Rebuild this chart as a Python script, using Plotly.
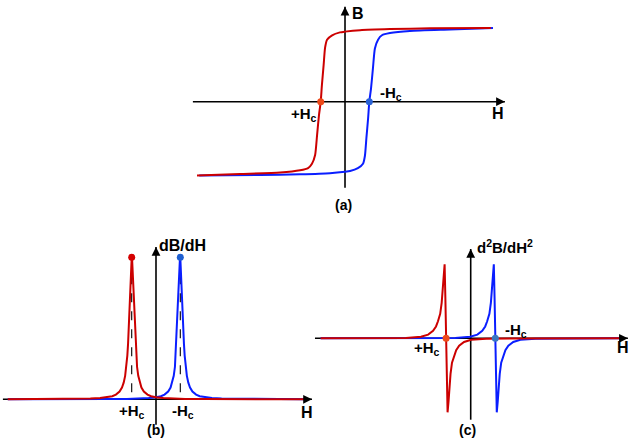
import plotly.graph_objects as go

# ---------------- data ----------------
# (a) hysteresis loop  (H in units of Hc, B in units of saturation)
a_red_H = [-6.09, -4.32, -2.67, -1.85, -1.52, -1.36, -1.23, -1.15, -1.07, -1.0, -0.95,
           -0.88, -0.82, -0.74, -0.53, -0.21, 0.0, 0.62, 1.85, 3.5, 6.0]
a_red_B = [-1.01, -0.99, -0.97, -0.94, -0.91, -0.85, -0.73, -0.46, -0.18, 0.0, 0.23,
           0.50, 0.74, 0.85, 0.91, 0.95, 0.96, 0.98, 0.995, 1.005, 1.01]
a_blue_H = [6.09, 4.32, 2.67, 1.85, 1.52, 1.36, 1.23, 1.15, 1.07, 1.0, 0.95,
            0.88, 0.82, 0.74, 0.53, 0.21, 0.0, -0.62, -1.85, -3.5, -6.0]
a_blue_B = [1.01, 0.99, 0.97, 0.94, 0.91, 0.85, 0.73, 0.46, 0.18, 0.0, -0.23,
            -0.50, -0.74, -0.85, -0.91, -0.95, -0.96, -0.98, -0.995, -1.005, -1.01]
hc_H = [-1.0, 1.0]
hc_B = [0.0, 0.0]

# (b) first derivative dB/dH
b_red_H = [-6.1, -5.0, -4.0, -3.2, -2.7, -2.3, -2.0, -1.8, -1.65, -1.5, -1.4, -1.33, -1.27,
           -1.22, -1.18, -1.15, -1.12, -1.10, -1.08, -1.06, -1.04, -1.02, -1.0, -0.98, -0.96,
           -0.94, -0.92, -0.90, -0.88, -0.85, -0.82, -0.78, -0.73, -0.67, -0.60, -0.5, -0.35,
           -0.2, 0.0, 0.3, 0.7, 1.2, 2.0, 3.0, 4.5, 6.1]
b_red_Y = [0.0006, 0.0009, 0.0016, 0.003, 0.005, 0.0085, 0.0142, 0.022, 0.033, 0.0545, 0.0826,
           0.117, 0.165, 0.229, 0.308, 0.390, 0.5, 0.590, 0.692, 0.8, 0.9, 0.973, 1.0, 0.973,
           0.9, 0.8, 0.692, 0.590, 0.5, 0.390, 0.308, 0.229, 0.165, 0.117, 0.0826, 0.0545,
           0.033, 0.022, 0.0142, 0.0085, 0.005, 0.003, 0.0016, 0.0009, 0.0005, 0.0003]
b_blue_H = [6.1, 5.0, 4.0, 3.2, 2.7, 2.3, 2.0, 1.8, 1.65, 1.5, 1.4, 1.33, 1.27,
            1.22, 1.18, 1.15, 1.12, 1.10, 1.08, 1.06, 1.04, 1.02, 1.0, 0.98, 0.96,
            0.94, 0.92, 0.90, 0.88, 0.85, 0.82, 0.78, 0.73, 0.67, 0.60, 0.5, 0.35,
            0.2, 0.0, -0.3, -0.7, -1.2, -2.0, -3.0, -4.5, -6.1]
b_blue_Y = [0.0006, 0.0009, 0.0016, 0.003, 0.005, 0.0085, 0.0142, 0.022, 0.033, 0.0545, 0.0826,
            0.117, 0.165, 0.229, 0.308, 0.390, 0.5, 0.590, 0.692, 0.8, 0.9, 0.973, 1.0, 0.973,
            0.9, 0.8, 0.692, 0.590, 0.5, 0.390, 0.308, 0.229, 0.165, 0.117, 0.0826, 0.0545,
            0.033, 0.022, 0.0142, 0.0085, 0.005, 0.003, 0.0016, 0.0009, 0.0005, 0.0003]
peak_H = [-1.0, 1.0]
peak_Y = [1.0, 1.0]

# (c) second derivative d2B/dH2
c_red_H = [-6.1, -2.63, -2.02, -1.73, -1.53, -1.41, -1.33, -1.24, -1.18, -1.14, -1.10, -1.06,
           -1.03, -1.0, -0.97, -0.94, -0.90, -0.86, -0.82, -0.76, -0.67, -0.59, -0.47, -0.27,
           0.02, 0.63, 6.1]
c_red_Y = [0.0, 0.005, 0.02, 0.05, 0.10, 0.16, 0.23, 0.33, 0.48, 0.65, 0.85, 1.0,
           0.55, 0.0, -0.55, -1.0, -0.85, -0.65, -0.48, -0.33, -0.23, -0.16, -0.10, -0.05,
           -0.02, -0.005, 0.0]
c_blue_H = [-6.1, -0.63, -0.02, 0.27, 0.47, 0.59, 0.67, 0.76, 0.82, 0.86, 0.90, 0.94,
            0.97, 1.0, 1.03, 1.06, 1.10, 1.14, 1.18, 1.24, 1.33, 1.41, 1.53, 1.73,
            2.02, 2.63, 6.1]
c_blue_Y = [0.0, 0.005, 0.02, 0.05, 0.10, 0.16, 0.23, 0.33, 0.48, 0.65, 0.85, 1.0,
            0.55, 0.0, -0.55, -1.0, -0.85, -0.65, -0.48, -0.33, -0.23, -0.16, -0.10, -0.05,
            -0.02, -0.005, 0.0]

RED = "#cc0000"
BLUE = "#0a1eff"
DOT_RED = "#ee4a1a"
DOT_BLUE = "#2a62d6"
FONT = "Liberation Sans, Arial, sans-serif"

fig = go.Figure()

def line(x, y, color, xa, ya, shape="linear"):
    fig.add_trace(go.Scatter(x=x, y=y, mode="lines", xaxis=xa, yaxis=ya,
                             line=dict(color=color, width=2, shape=shape, smoothing=0.6),
                             hoverinfo="skip", showlegend=False))

def dots(x, y, colors, xa, ya):
    fig.add_trace(go.Scatter(x=x, y=y, mode="markers", xaxis=xa, yaxis=ya,
                             marker=dict(color=colors, size=7, line=dict(width=0)),
                             hoverinfo="skip", showlegend=False))

# (a)
line(a_blue_H, a_blue_B, BLUE, "x", "y", "spline")
line(a_red_H, a_red_B, RED, "x", "y", "spline")
dots(hc_H, hc_B, [DOT_RED, DOT_BLUE], "x", "y")

# (b)
for h, p in zip(peak_H, peak_Y):
    fig.add_trace(go.Scatter(x=[h, h], y=[p, 0], mode="lines", xaxis="x2", yaxis="y2",
                             line=dict(color="black", width=1.1, dash="dash"),
                             hoverinfo="skip", showlegend=False))
line(b_blue_H, b_blue_Y, BLUE, "x2", "y2")
line(b_red_H, b_red_Y, RED, "x2", "y2")
dots(peak_H, peak_Y, ["#d40000", "#1f5fd0"], "x2", "y2")

# (c)
line(c_blue_H, c_blue_Y, BLUE, "x3", "y3")
line(c_red_H, c_red_Y, RED, "x3", "y3")
dots(hc_H, hc_B, [DOT_RED, "#3a78c0"], "x3", "y3")

# axes drawn as arrows
shapes = []
annotations = []

def axis_arrow(xr, yr, x0, y0, x1, y1, horizontal):
    shapes.append(dict(type="line", xref=xr, yref=yr, x0=x0, y0=y0, x1=x1, y1=y1,
                       layer="below", line=dict(color="black", width=1.6)))
    annotations.append(dict(xref=xr, yref=yr, x=x1, y=y1, text=" ", showarrow=True,
                            ax=-6 if horizontal else 0, ay=0 if horizontal else 6,
                            arrowhead=2, arrowsize=1.1, arrowwidth=1.6,
                            arrowcolor="black", standoff=0, font=dict(size=2)))

axis_arrow("x", "y", -6.26, 0, 6.58, 0, True)
axis_arrow("x", "y", 0, -1.18, 0, 1.30, False)
axis_arrow("x2", "y2", -6.30, 0, 6.42, 0, True)
axis_arrow("x2", "y2", 0, -0.18, 0, 1.073, False)
axis_arrow("x3", "y3", -6.33, 0, 6.39, 0, True)
axis_arrow("x3", "y3", 0, -1.10, 0, 1.207, False)

def label(xr, yr, x, y, text, xanchor="center", size=15):
    annotations.append(dict(xref=xr, yref=yr, x=x, y=y, text="<b>" + text + "</b>",
                            showarrow=False, xanchor=xanchor, yanchor="middle",
                            font=dict(family=FONT, size=size, color="black")))

label("x", "y", 0.2, 1.21, "B", "left", 16)
label("x", "y", 6.31, -0.16, "H", size=16)
label("x", "y", -1.08, -0.18, "+H<sub>c</sub>", "right")
label("x", "y", 1.36, 0.115, "-H<sub>c</sub>", "left")
label("x", "y", -0.07, -1.415, "(a)", size=14)

label("x2", "y2", 0.06, 1.08, "dB/dH", "left", 16)
label("x2", "y2", 6.2, -0.094, "H", size=16)
label("x2", "y2", -0.98, -0.085, "+H<sub>c</sub>")
label("x2", "y2", 1.11, -0.085, "-H<sub>c</sub>")
label("x2", "y2", 0.0, -0.215, "(b)", size=14)

label("x3", "y3", 0.18, 1.247, "d<sup>2</sup>B/dH<sup>2</sup>", "left", 15)
label("x3", "y3", -1.16, -0.135, "+H<sub>c</sub>", "right")
label("x3", "y3", 1.31, 0.112, "-H<sub>c</sub>", "left")
label("x3", "y3", 6.19, -0.13, "H", size=16)
label("x3", "y3", -0.11, -1.24, "(c)", size=14)

ax_common = dict(visible=False, showgrid=False, zeroline=False, fixedrange=True)
fig.update_layout(
    width=629, height=440,
    margin=dict(l=0, r=0, t=0, b=0),
    paper_bgcolor="white", plot_bgcolor="rgba(0,0,0,0)",
    showlegend=False,
    xaxis=dict(range=[-14.198, 11.687], domain=[0, 1], **ax_common),
    yaxis=dict(range=[-4.634, 1.3932], domain=[0, 1], **ax_common),
    xaxis2=dict(range=[-6.4198, 19.465], overlaying="x", anchor="y2", **ax_common),
    yaxis2=dict(range=[-0.2866, 2.812], overlaying="y", anchor="x2", **ax_common),
    xaxis3=dict(range=[-19.134, 6.435], overlaying="x", anchor="y3", **ax_common),
    yaxis3=dict(range=[-1.3743, 4.5716], overlaying="y", anchor="x3", **ax_common),
    shapes=shapes,
    annotations=annotations,
)

fig.write_html("out.html", config={"displayModeBar": False},
               post_script="document.body.style.margin='0';document.body.style.overflow='hidden';")
